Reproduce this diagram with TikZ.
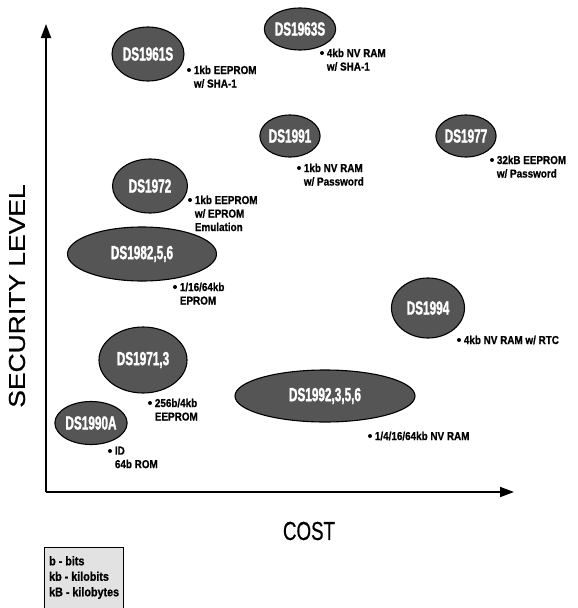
\documentclass[tikz,border=0pt]{standalone}
\usepackage{fontspec}
\setmainfont{Liberation Sans}
\newfontfamily\namefont[FakeStretch=0.62, BoldFeatures={FakeBold=1.4}]{Liberation Sans}
\newfontfamily\notefont[FakeStretch=0.86, BoldFeatures={FakeBold=0.8}]{Liberation Sans}
\newfontfamily\costfont[FakeStretch=0.72, FakeBold=0.6]{Liberation Sans}
\newfontfamily\levelfont[FakeStretch=1.15, FakeBold=0.7]{Liberation Sans}
\usetikzlibrary{arrows.meta}
\usetikzlibrary{shapes.geometric}
\usetikzlibrary{positioning}
\definecolor{chipgray}{HTML}{555555}
\definecolor{keygray}{HTML}{E2E2E2}
\tikzset{
part/.style={shape=ellipse, draw=black, fill=chipgray, line width=1.1pt, inner sep=0pt,
    text=white, font=\namefont\bfseries\fontsize{19}{19}\selectfont},
dot/.style={shape=circle, fill=black, inner sep=0pt, minimum size=4pt},
note/.style={anchor=north west, inner sep=0pt, align=left,
    font=\notefont\bfseries\fontsize{11.5}{13.5}\selectfont},
axis/.style={line width=1.8pt, -{Triangle[length=14pt,width=10pt]}}}

\begin{document}
\begin{tikzpicture}[x=1pt, y=-1pt]
                \useasboundingbox (0,0) rectangle (578,608);

                % axes
                \coordinate (O) at (46,492);
                \coordinate (Y) at (46,24);
                \coordinate (X) at (514,492);
                \draw[axis] (O) -- (Y);
                \draw[axis] (O) -- (X);
                \node[rotate=90, font=\levelfont\fontsize{23}{23}\selectfont] (level) at (17,296) {SECURITY LEVEL};
                \node[font=\costfont\fontsize{26}{26}\selectfont] (cost) at (309,531) {COST};

                % parts
                \node[part, minimum width=72pt, minimum height=54pt] (s1961) at (148,54) {DS1961S};
                \node[part, minimum width=55pt, minimum height=42pt] (s1963) at (300,29) {DS1963S};
                \node[part, minimum width=55pt, minimum height=42pt] (s1991) at (290,136) {DS1991};
                \node[part, minimum width=55pt, minimum height=42pt] (s1977) at (466,136) {DS1977};
                \node[part, minimum width=75pt, minimum height=54pt] (s1972) at (150,186) {DS1972};
                \node[part, minimum width=149pt, minimum height=54pt] (s1982) at (142,254) {DS1982,5,6};
                \node[part, minimum width=88pt, minimum height=66pt] (s1971) at (143,360) {DS1971,3};
                \node[part, minimum width=58pt, minimum height=43pt] (s1990) at (91,423) {DS1990A};
                \node[part, minimum width=73pt, minimum height=60pt] (s1994) at (428,308) {DS1994};
                \node[part, minimum width=180pt, minimum height=52pt] (s1992) at (325,396) {DS1992,3,5,6};

                % memory notes
                \node[dot] (d1961) at (189,70) {};
                \node[dot] (d1963) at (322,53) {};
                \node[dot] (d1991) at (299,168) {};
                \node[dot] (d1977) at (492,160) {};
                \node[dot] (d1972) at (190,200) {};
                \node[dot] (d1982) at (175,287) {};
                \node[dot] (d1971) at (150,403) {};
                \node[dot] (d1990) at (110,451) {};
                \node[dot] (d1994) at (459,340) {};
                \node[dot] (d1992) at (370,436) {};

                \node[note] (t1961) at ([shift={(2.5pt,4.5pt)}]d1961.east) {1kb EEPROM\\w/ SHA-1};
                \node[note] (t1963) at ([shift={(2.5pt,4.5pt)}]d1963.east) {4kb NV RAM\\w/ SHA-1};
                \node[note] (t1991) at ([shift={(2.5pt,4.5pt)}]d1991.east) {1kb NV RAM\\w/ Password};
                \node[note] (t1977) at ([shift={(2.5pt,4.5pt)}]d1977.east) {32kB EEPROM\\w/ Password};
                \node[note] (t1972) at ([shift={(2.5pt,4.5pt)}]d1972.east) {1kb EEPROM\\w/ EPROM\\Emulation};
                \node[note] (t1982) at ([shift={(2.5pt,4.5pt)}]d1982.east) {1/16/64kb\\EPROM};
                \node[note] (t1971) at ([shift={(2.5pt,4.5pt)}]d1971.east) {256b/4kb\\EEPROM};
                \node[note] (t1990) at ([shift={(2.5pt,4.5pt)}]d1990.east) {ID\\64b ROM};
                \node[note] (t1994) at ([shift={(2.5pt,4.5pt)}]d1994.east) {4kb NV RAM w/ RTC};
                \node[note] (t1992) at ([shift={(2.5pt,4.5pt)}]d1992.east) {1/4/16/64kb NV RAM};

                % key
                \draw[fill=keygray, line width=0.8pt] (44,547) rectangle (123,612);
                \node[note, font=\notefont\bfseries\fontsize{12.5}{15.5}\selectfont] (key) at (49,556) {b - bits\\kb - kilobits\\kB - kilobytes};

            \end{tikzpicture}
\end{document}
